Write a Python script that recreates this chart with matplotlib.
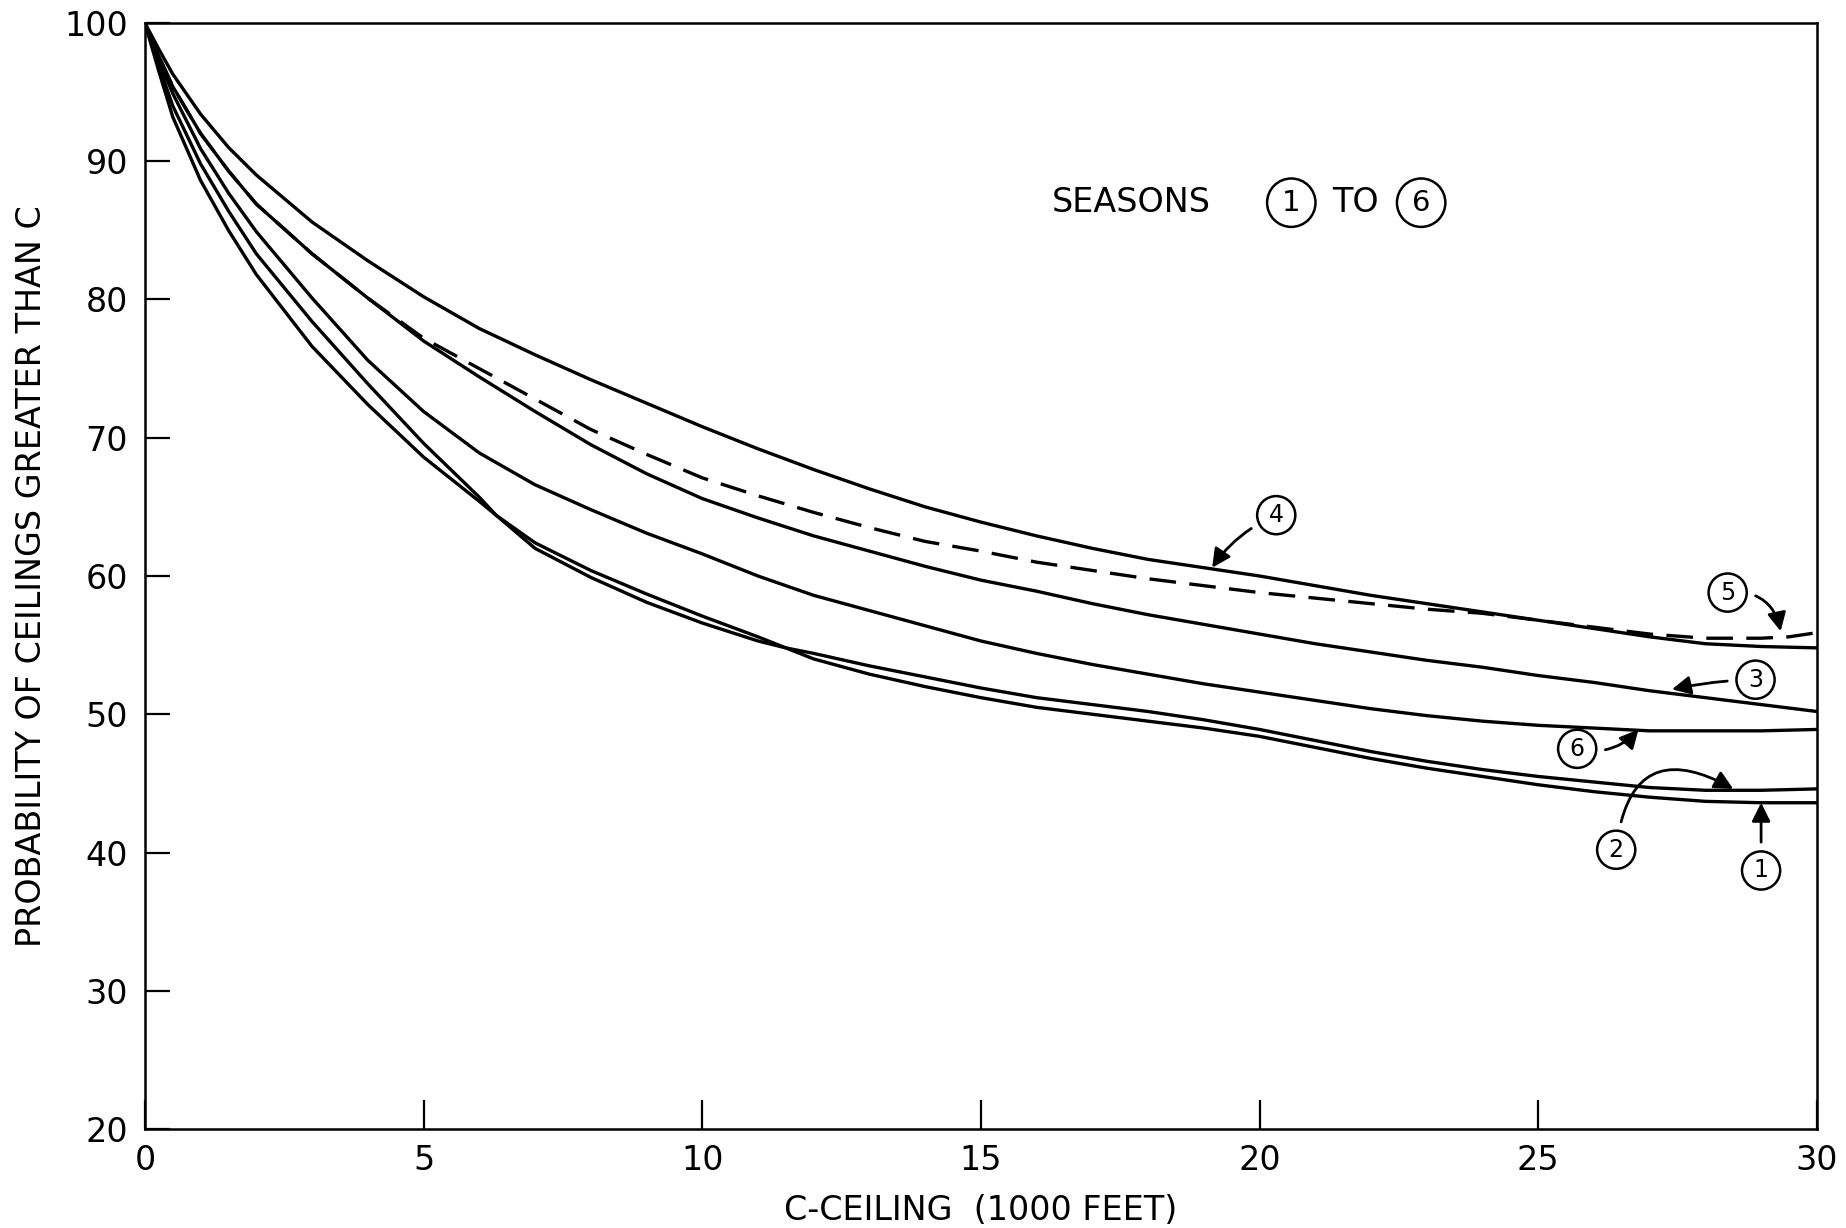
import numpy as np
import matplotlib
matplotlib.use("Agg")
import matplotlib.pyplot as plt

# ceiling (1000 ft) and probability (%), one list per season
x_s4 = [0, 0.25, 0.5, 1, 1.5, 2, 3, 4, 5, 6, 7, 8, 9, 10, 11, 12, 13, 14, 15, 16, 17, 18, 19, 20, 21, 22, 23, 24, 25, 26, 27, 28, 29, 30]
y_s4 = [100, 98.1, 96.3, 93.4, 91.0, 89.0, 85.6, 82.8, 80.2, 77.9, 76.0, 74.2, 72.5, 70.8, 69.2, 67.7, 66.3, 65.0, 63.9, 62.9, 62.0, 61.2, 60.6, 60.0, 59.3, 58.6, 58.0, 57.4, 56.8, 56.2, 55.6, 55.1, 54.9, 54.8]

x_s3 = [0, 0.25, 0.5, 1, 1.5, 2, 3, 4, 5, 6, 7, 8, 9, 10, 11, 12, 13, 14, 15, 16, 17, 18, 19, 20, 21, 22, 23, 24, 25, 26, 27, 28, 29, 30]
y_s3 = [100, 97.6, 95.4, 92.0, 89.3, 86.9, 83.3, 80.1, 77.0, 74.4, 71.9, 69.5, 67.4, 65.6, 64.2, 62.9, 61.8, 60.7, 59.7, 58.9, 58.0, 57.2, 56.5, 55.8, 55.1, 54.5, 53.9, 53.4, 52.8, 52.3, 51.7, 51.2, 50.7, 50.2]

x_s5 = [0, 0.25, 0.5, 1, 1.5, 2, 3, 4, 5, 6, 7, 8, 9, 10, 11, 12, 13, 14, 15, 16, 17, 18, 19, 20, 21, 22, 23, 24, 25, 26, 27, 28, 29, 29.5, 30]
y_s5 = [100, 97.6, 95.4, 92.0, 89.3, 86.9, 83.3, 80.1, 77.2, 75.0, 72.8, 70.6, 68.8, 67.1, 65.8, 64.6, 63.5, 62.5, 61.8, 61.0, 60.4, 59.8, 59.3, 58.8, 58.4, 58.0, 57.6, 57.3, 56.8, 56.3, 55.8, 55.5, 55.5, 55.6, 55.9]

x_s6 = [0, 0.25, 0.5, 1, 1.5, 2, 3, 4, 5, 6, 7, 8, 9, 10, 11, 12, 13, 14, 15, 16, 17, 18, 19, 20, 21, 22, 23, 24, 25, 26, 27, 28, 29, 30]
y_s6 = [100, 97.3, 94.9, 90.9, 87.7, 84.9, 80.1, 75.6, 71.9, 68.9, 66.6, 64.8, 63.1, 61.6, 60.0, 58.6, 57.5, 56.4, 55.3, 54.4, 53.6, 52.9, 52.2, 51.6, 51.0, 50.4, 49.9, 49.5, 49.2, 49.0, 48.8, 48.8, 48.8, 48.9]

x_s2 = [0, 0.25, 0.5, 1, 1.5, 2, 3, 4, 5, 6, 6.3, 7, 8, 9, 10, 11, 11.5, 12, 13, 14, 15, 16, 17, 18, 19, 20, 21, 22, 23, 24, 25, 26, 27, 28, 29, 30]
y_s2 = [100, 96.9, 94.0, 89.8, 86.4, 83.3, 78.4, 73.9, 69.6, 65.7, 64.4, 62.0, 59.9, 58.1, 56.6, 55.3, 54.8, 54.4, 53.5, 52.7, 51.9, 51.2, 50.7, 50.2, 49.6, 48.9, 48.1, 47.3, 46.6, 46.0, 45.5, 45.1, 44.7, 44.5, 44.5, 44.6]

x_s1 = [0, 0.25, 0.5, 1, 1.5, 2, 3, 4, 5, 6, 6.3, 7, 8, 9, 10, 11, 11.5, 12, 13, 14, 15, 16, 17, 18, 19, 20, 21, 22, 23, 24, 25, 26, 27, 28, 29, 30]
y_s1 = [100, 96.5, 93.2, 88.6, 85.0, 81.8, 76.6, 72.4, 68.6, 65.4, 64.4, 62.4, 60.4, 58.7, 57.1, 55.6, 54.8, 54.0, 52.9, 52.0, 51.2, 50.5, 50.0, 49.5, 49.0, 48.4, 47.6, 46.8, 46.1, 45.5, 44.9, 44.4, 44.0, 43.7, 43.6, 43.6]

x_ticks = [0, 5, 10, 15, 20, 25, 30]
y_ticks = [20, 30, 40, 50, 60, 70, 80, 90, 100]

# season label: (text, arrow tip, label position, arc)
labels = [
    ("4", (19.15, 60.6), (20.3, 64.4), 0.15),
    ("5", (29.35, 56.0), (28.4, 58.8), -0.45),
    ("3", (27.4, 51.8), (28.9, 52.5), 0.05),
    ("6", (26.8, 48.9), (25.7, 47.5), 0.3),
    ("2", (28.5, 44.6), (26.4, 40.2), -0.75),
    ("1", (29.0, 43.6), (29.0, 38.7), 0.0),
]

plt.rcParams['font.family'] = ['DejaVu Sans']

fig = plt.figure(figsize=(18.46, 12.28), dpi=100)
ax = fig.add_axes([0.0785, 0.0806, 0.9057, 0.9007])

lw = 2.4
ax.plot(x_s4, y_s4, color='black', lw=lw)
ax.plot(x_s3, y_s3, color='black', lw=lw)
ax.plot(x_s5, y_s5, color='black', lw=lw, dashes=(8, 4))
ax.plot(x_s6, y_s6, color='black', lw=lw)
ax.plot(x_s2, y_s2, color='black', lw=lw)
ax.plot(x_s1, y_s1, color='black', lw=lw)

ax.set_xlim(0, 30)
ax.set_ylim(20, 100)
ax.set_xticks(x_ticks)
ax.set_yticks(y_ticks)
ax.tick_params(axis='x', direction='in', length=21, width=1.6, labelsize=24, pad=11)
ax.tick_params(axis='y', direction='in', length=18, width=1.6, labelsize=24, pad=12)
for s in ax.spines.values():
    s.set_linewidth(1.8)

ax.set_xlabel('C-CEILING  (1000 FEET)', fontsize=24, labelpad=12)
ax.set_ylabel('PROBABILITY OF CEILINGS GREATER THAN C', fontsize=24, labelpad=12)

for txt, tip, pos, rad in labels:
    ax.annotate(txt, xy=tip, xytext=pos, fontsize=17, ha='center', va='center',
                bbox=dict(boxstyle='circle,pad=0.3', fc='white', ec='black', lw=1.8),
                arrowprops=dict(arrowstyle='-|>', color='black', lw=2,
                                mutation_scale=28, shrinkA=6, shrinkB=0,
                                connectionstyle='arc3,rad=%s' % rad))

ax.text(17.7, 87.0, 'SEASONS', fontsize=24, ha='center', va='center')
ax.text(20.57, 87.0, '1', fontsize=21, ha='center', va='center',
        bbox=dict(boxstyle='circle,pad=0.35', fc='white', ec='black', lw=1.8))
ax.text(21.72, 87.0, 'TO', fontsize=24, ha='center', va='center')
ax.text(22.9, 87.0, '6', fontsize=21, ha='center', va='center',
        bbox=dict(boxstyle='circle,pad=0.35', fc='white', ec='black', lw=1.8))

fig.savefig('out.png', dpi=100)
